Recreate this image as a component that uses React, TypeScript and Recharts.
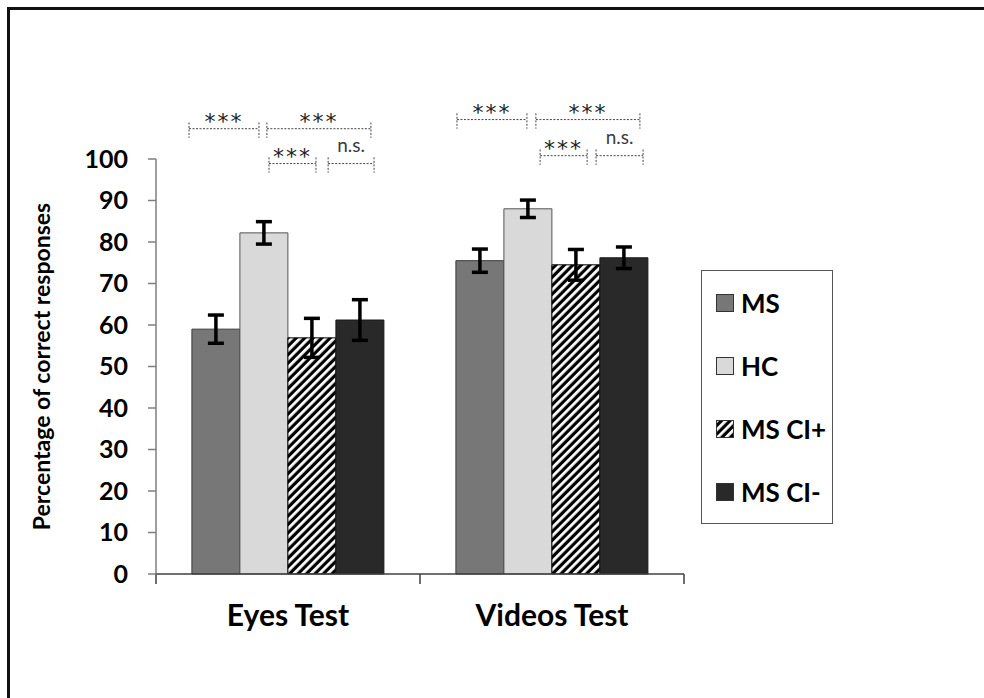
import {
  BarChart,
  Bar,
  XAxis,
  YAxis,
  ErrorBar,
  ReferenceLine,
  Legend,
} from 'recharts';

const categories = ['Eyes Test', 'Videos Test'];
const msValues = [59, 75.5];
const msErrors = [3.4, 2.8];
const hcValues = [82.2, 88];
const hcErrors = [2.7, 2.1];
const ciPlusValues = [56.9, 74.5];
const ciPlusErrors = [4.7, 3.7];
const ciMinusValues = [61.2, 76.2];
const ciMinusErrors = [4.9, 2.6];
const yTicks = [0, 10, 20, 30, 40, 50, 60, 70, 80, 90, 100];

// significance brackets: category index, start/end as fraction of the category band, level in %
const brackets = [
  { cat: 0, from: 0.125, to: 0.39, level: 107.3, label: '***' },
  { cat: 0, from: 0.42, to: 0.814, level: 107.3, label: '***' },
  { cat: 0, from: 0.428, to: 0.606, level: 98.9, label: '***' },
  { cat: 0, from: 0.652, to: 0.826, level: 98.9, label: 'n.s.' },
  { cat: 1, from: 0.14, to: 0.405, level: 109.5, label: '***' },
  { cat: 1, from: 0.439, to: 0.833, level: 109.5, label: '***' },
  { cat: 1, from: 0.455, to: 0.633, level: 100.8, label: '***' },
  { cat: 1, from: 0.667, to: 0.845, level: 100.8, label: 'n.s.' },
];

const series = [
  { key: 'MS', name: 'MS', fill: '#777777', stroke: '#3a3a3a' },
  { key: 'HC', name: 'HC', fill: '#d9d9d9', stroke: '#555555' },
  { key: 'CIplus', name: 'MS CI+', fill: 'url(#hatch)', stroke: '#000000' },
  { key: 'CIminus', name: 'MS CI-', fill: '#292929', stroke: '#1a1a1a' },
];

const data = categories.map((name, i) => ({
  name,
  MS: msValues[i],
  MSerr: msErrors[i],
  HC: hcValues[i],
  HCerr: hcErrors[i],
  CIplus: ciPlusValues[i],
  CIpluserr: ciPlusErrors[i],
  CIminus: ciMinusValues[i],
  CIminuserr: ciMinusErrors[i],
}));

const FONT = 'Lato, "Open Sans", sans-serif';
const N = categories.length;
// helper numeric axis spans the whole plot width as [0, 1]
const slot = (cat: number, frac: number) => (cat + frac) / N;

function LegendBox() {
  return (
    <div
      style={{
        width: '100%',
        height: '100%',
        boxSizing: 'border-box',
        border: '1.5px solid #555',
        background: '#fff',
        fontFamily: FONT,
      }}
    >
      {series.map((s) => (
        <div
          key={s.key}
          style={{ height: 63, display: 'flex', alignItems: 'center', paddingLeft: 14 }}
        >
          <svg width={18} height={18} style={{ marginRight: 7 }}>
            <rect x={0.5} y={0.5} width={17} height={17} fill={s.fill} stroke="#333" />
          </svg>
          <span style={{ fontSize: 26, fontWeight: 700, color: '#000' }}>{s.name}</span>
        </div>
      ))}
    </div>
  );
}

export default function App() {
  const dash = { stroke: '#444', strokeWidth: 1, strokeDasharray: '2 1.5' };
  return (
    <div
      style={{
        position: 'absolute',
        left: 0,
        top: 0,
        width: 984,
        height: 698,
        overflow: 'hidden',
        background: '#fff',
        fontFamily: FONT,
      }}
    >
      <div
        style={{
          position: 'absolute',
          left: 7,
          top: 7,
          width: 1000,
          height: 720,
          border: '3px solid #111',
        }}
      />
      <BarChart
        width={984}
        height={698}
        data={data}
        margin={{ top: 159, right: 300, bottom: 94, left: 0 }}
        barCategoryGap="13.6%"
        barGap={0}
      >
        <defs>
          <pattern
            id="hatch"
            patternUnits="userSpaceOnUse"
            width={6}
            height={6}
            patternTransform="rotate(45)"
          >
            <rect width={6} height={6} fill="#000" />
            <rect width={2.8} height={6} fill="#fff" />
          </pattern>
        </defs>
        <XAxis
          dataKey="name"
          tickLine={false}
          axisLine={{ stroke: '#404040', strokeWidth: 1.5 }}
          tickMargin={25}
          tick={{ fontSize: 30, fontWeight: 700, fill: '#000', fontFamily: FONT }}
        />
        <XAxis xAxisId="slot" type="number" domain={[0, 1]} allowDataOverflow hide />
        <YAxis
          width={156}
          domain={[0, 100]}
          ticks={yTicks}
          interval={0}
          tickSize={8}
          tickMargin={20}
          axisLine={{ stroke: '#7f7f7f', strokeWidth: 1.5 }}
          tickLine={{ stroke: '#7f7f7f', strokeWidth: 1.5 }}
          tick={{ fontSize: 25, fontWeight: 700, fill: '#000', fontFamily: FONT }}
          label={{
            value: 'Percentage of correct responses',
            angle: -90,
            position: 'insideLeft',
            offset: 42,
            style: { textAnchor: 'middle', fontSize: 23, fontWeight: 700, fill: '#000', fontFamily: FONT },
          }}
        />
        <Legend
          layout="horizontal"
          align="center"
          verticalAlign="middle"
          wrapperStyle={{ left: 701, top: 270, width: 132, height: 254 }}
          content={() => <LegendBox />}
        />
        {series.map((s) => (
          <Bar
            key={s.key}
            dataKey={s.key}
            name={s.name}
            fill={s.fill}
            stroke={s.stroke}
            strokeWidth={1}
            isAnimationActive={false}
          >
            <ErrorBar dataKey={`${s.key}err`} width={8} strokeWidth={3.5} stroke="#000" />
          </Bar>
        ))}
        {Array.from({ length: N + 1 }, (_, t) => (
          <ReferenceLine
            key={`bt${t}`}
            xAxisId="slot"
            ifOverflow="visible"
            segment={[
              { x: t / N, y: 0 },
              { x: t / N, y: -2.4 },
            ]}
            stroke="#404040"
            strokeWidth={1.5}
          />
        ))}
        {brackets.map((b, i) => {
          const x1 = slot(b.cat, b.from);
          const x2 = slot(b.cat, b.to);
          const stars = b.label === '***';
          return [
            <ReferenceLine
              key={`h${i}`}
              xAxisId="slot"
              ifOverflow="visible"
              segment={[
                { x: x1, y: b.level },
                { x: x2, y: b.level },
              ]}
              {...dash}
              label={{
                value: b.label,
                position: 'top',
                offset: stars ? 0 : 12,
                style: {
                  fontSize: stars ? 22 : 19,
                  fill: stars ? '#222' : '#3c3c3c',
                  fontFamily: stars ? '"DejaVu Sans", sans-serif' : FONT,
                  letterSpacing: stars ? 2 : 0,
                },
              }}
            />,
            <ReferenceLine
              key={`l${i}`}
              xAxisId="slot"
              ifOverflow="visible"
              segment={[
                { x: x1, y: b.level + 1.5 },
                { x: x1, y: b.level - 2.2 },
              ]}
              {...dash}
            />,
            <ReferenceLine
              key={`r${i}`}
              xAxisId="slot"
              ifOverflow="visible"
              segment={[
                { x: x2, y: b.level + 1.5 },
                { x: x2, y: b.level - 2.2 },
              ]}
              {...dash}
            />,
          ];
        })}
      </BarChart>
    </div>
  );
}
